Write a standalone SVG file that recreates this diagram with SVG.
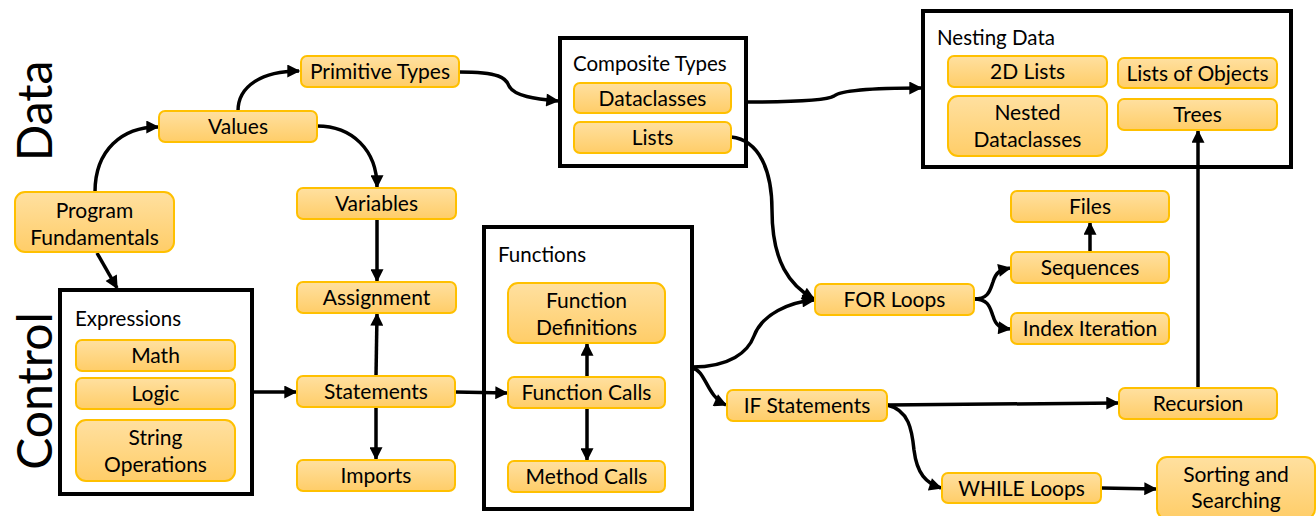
<svg xmlns="http://www.w3.org/2000/svg" width="1316" height="516" viewBox="0 0 1316 516">
<defs>
<linearGradient id="g" x1="0" y1="0" x2="0" y2="1">
<stop offset="0" stop-color="#FFE0A0"/>
<stop offset="1" stop-color="#FFCD68"/>
</linearGradient>
<marker id="a" viewBox="0 0 10 10" refX="9" refY="5" markerWidth="15" markerHeight="13" markerUnits="userSpaceOnUse" orient="auto">
<path d="M0,0 L10,5 L0,10 z" fill="#000"/>
</marker>
<style>
.n{fill:url(#g);stroke:#FFC000;stroke-width:2}
.b{fill:#fff;stroke:#000;stroke-width:4}
.t{font-family:Lato,"Liberation Sans",sans-serif;font-size:21px;fill:#000;text-anchor:middle}
.l{font-family:Lato,"Liberation Sans",sans-serif;font-size:20.5px;fill:#000}
.big{font-family:Lato,"Liberation Sans",sans-serif;font-size:48px;fill:#000;text-anchor:middle}
.c{fill:none;stroke:#000;stroke-width:3.5}
.c2{fill:none;stroke:#000;stroke-width:3.5;marker-end:url(#a)}
</style>
</defs>
<rect width="1316" height="516" fill="#fff"/>

<text class="big" transform="translate(52,111) rotate(-90)">Data</text>
<text class="big" transform="translate(52,391) rotate(-90)">Control</text>

<g id="expressions">
<rect class="b" x="60" y="290" width="192" height="204"/>
<text class="l" x="75" y="326">Expressions</text>
</g>
<g id="composite">
<rect class="b" x="560" y="38" width="186" height="128"/>
<text class="l" x="573" y="71">Composite Types</text>
</g>
<g id="nesting">
<rect class="b" x="923" y="11" width="368" height="156"/>
<text class="l" x="937" y="45">Nesting Data</text>
</g>
<g id="functions">
<rect class="b" x="484" y="227" width="208" height="282"/>
<text class="l" x="498" y="262">Functions</text>
</g>

<g id="connectors">
<path class="c2" d="M95,192 C95,150 122,127 158,127"/>
<path class="c2" d="M238,111 C238,86 262,71 299,71"/>
<path class="c2" d="M317,126 C352,126 377,150 377,187"/>
<path class="c2" d="M459,72 C500,72 506,78 509,86 C514,96 535,99 558,101"/>
<path class="c2" d="M746,102 C800,102 828,100 834,96 C840,91 870,88 921,88"/>
<path class="c2" d="M731,137 C760,140 772,172 772,210 C772,262 790,286 814,299"/>
<path class="c2" d="M692,367 C730,367 748,352 754,336 C762,314 790,302 814,300"/>
<path class="c2" d="M692,368 C706,370 706,396 726,405"/>
<path class="c2" d="M887,405 L1118,403"/>
<path class="c2" d="M887,405 C909,410 912,430 914,450 C917,474 926,483 941,488"/>
<path class="c2" d="M1101,488 L1156,489"/>
<path class="c2" d="M974,299 C989,299 990,290 993,282 C996,272 1000,270 1010,268"/>
<path class="c2" d="M974,299 C989,299 990,308 993,316 C996,326 1000,328 1010,329"/>
<path class="c2" d="M1090,252 L1090,223"/>
<path class="c2" d="M1198,388 L1198,131"/>
<path class="c2" d="M377,219 L377,281"/>
<path class="c2" d="M376,376 L377,314"/>
<path class="c2" d="M376,407 L376,459"/>
<path class="c2" d="M252,392 L296,392"/>
<path class="c2" d="M455,392 L507,393"/>
<path class="c2" d="M587,377 L587,344"/>
<path class="c2" d="M587,408 L587,460"/>
<path class="c2" d="M97,253 L117,288"/>
</g>

<g id="program-fundamentals"><rect class="n" x="15" y="192" width="159" height="60" rx="10"/><text class="t" x="94.5" y="218">Program</text><text class="t" x="94.5" y="245">Fundamentals</text></g>
<g id="values"><rect class="n" x="159" y="111" width="158" height="31" rx="6"/><text class="t" x="238" y="134">Values</text></g>
<g id="primitive-types"><rect class="n" x="301" y="56" width="158" height="31" rx="6"/><text class="t" x="380" y="79">Primitive Types</text></g>
<g id="variables"><rect class="n" x="297" y="188" width="159" height="31" rx="6"/><text class="t" x="376.5" y="211">Variables</text></g>
<g id="assignment"><rect class="n" x="297" y="282" width="159" height="31" rx="6"/><text class="t" x="376.5" y="305">Assignment</text></g>
<g id="statements"><rect class="n" x="297" y="376" width="158" height="31" rx="6"/><text class="t" x="376" y="399">Statements</text></g>
<g id="imports"><rect class="n" x="297" y="460" width="158" height="31" rx="6"/><text class="t" x="376" y="483">Imports</text></g>
<g id="math"><rect class="n" x="76" y="340" width="159" height="31" rx="6"/><text class="t" x="155.5" y="363">Math</text></g>
<g id="logic"><rect class="n" x="76" y="378" width="159" height="31" rx="6"/><text class="t" x="155.5" y="401">Logic</text></g>
<g id="string-operations"><rect class="n" x="76" y="420" width="159" height="61" rx="10"/><text class="t" x="155.5" y="445">String</text><text class="t" x="155.5" y="472">Operations</text></g>
<g id="dataclasses"><rect class="n" x="574" y="83" width="157" height="30" rx="6"/><text class="t" x="652.5" y="106">Dataclasses</text></g>
<g id="lists"><rect class="n" x="574" y="122" width="157" height="31" rx="6"/><text class="t" x="652.5" y="145">Lists</text></g>
<g id="2d-lists"><rect class="n" x="948" y="56" width="159" height="31" rx="6"/><text class="t" x="1027.5" y="79">2D Lists</text></g>
<g id="nested-dataclasses"><rect class="n" x="948" y="96" width="159" height="60" rx="10"/><text class="t" x="1027.5" y="120">Nested</text><text class="t" x="1027.5" y="147">Dataclasses</text></g>
<g id="lists-of-objects"><rect class="n" x="1118" y="58" width="159" height="30" rx="6"/><text class="t" x="1197.5" y="81">Lists of Objects</text></g>
<g id="trees"><rect class="n" x="1118" y="99" width="159" height="31" rx="6"/><text class="t" x="1197.5" y="122">Trees</text></g>
<g id="function-definitions"><rect class="n" x="508" y="283" width="157" height="60" rx="10"/><text class="t" x="586.5" y="308">Function</text><text class="t" x="586.5" y="335">Definitions</text></g>
<g id="function-calls"><rect class="n" x="508" y="377" width="157" height="31" rx="6"/><text class="t" x="586.5" y="400">Function Calls</text></g>
<g id="method-calls"><rect class="n" x="508" y="461" width="157" height="31" rx="6"/><text class="t" x="586.5" y="484">Method Calls</text></g>
<g id="if-statements"><rect class="n" x="727" y="390" width="160" height="31" rx="6"/><text class="t" x="807" y="413">IF Statements</text></g>
<g id="for-loops"><rect class="n" x="815" y="284" width="159" height="31" rx="6"/><text class="t" x="894.5" y="307">FOR Loops</text></g>
<g id="files"><rect class="n" x="1011" y="191" width="158" height="31" rx="6"/><text class="t" x="1090" y="214">Files</text></g>
<g id="sequences"><rect class="n" x="1011" y="252" width="158" height="31" rx="6"/><text class="t" x="1090" y="275">Sequences</text></g>
<g id="index-iteration"><rect class="n" x="1011" y="313" width="158" height="31" rx="6"/><text class="t" x="1090" y="336">Index Iteration</text></g>
<g id="recursion"><rect class="n" x="1119" y="388" width="158" height="31" rx="6"/><text class="t" x="1198" y="411">Recursion</text></g>
<g id="while-loops"><rect class="n" x="942" y="473" width="159" height="30" rx="6"/><text class="t" x="1021.5" y="496">WHILE Loops</text></g>
<g id="sorting-and-searching"><rect class="n" x="1157" y="457" width="158" height="62" rx="10"/><text class="t" x="1236" y="482">Sorting and</text><text class="t" x="1236" y="508">Searching</text></g>
</svg>
